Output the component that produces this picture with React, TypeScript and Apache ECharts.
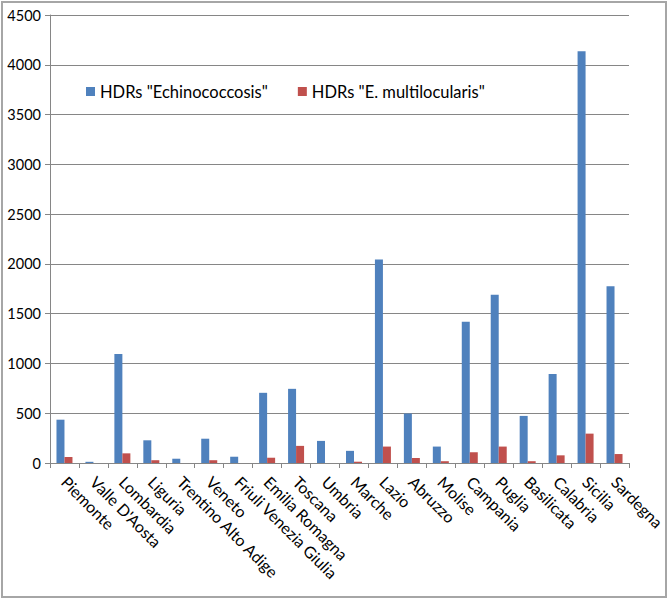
import React, { useEffect, useRef } from "react";
import * as echarts from "echarts";

const regions = [
  "Piemonte", "Valle D'Aosta", "Lombardia", "Liguria", "Trentino Alto Adige",
  "Veneto", "Friuli Venezia Giulia", "Emilia Romagna", "Toscana", "Umbria",
  "Marche", "Lazio", "Abruzzo", "Molise", "Campania", "Puglia", "Basilicata",
  "Calabria", "Sicilia", "Sardegna",
];
const echinococcosis = [
  435, 12, 1095, 228, 43, 244, 63, 705, 745, 222, 122, 2045, 497, 165, 1420,
  1690, 473, 895, 4135, 1775,
];
const multilocularis = [
  60, 0, 97, 28, 0, 28, 0, 53, 172, 0, 13, 165, 50, 18, 108, 165, 18, 77, 295, 90,
];
const seriesNames = ['HDRs "Echinococcosis"', 'HDRs "E. multilocularis"'];

const FONT = "Lato, 'Open Sans', sans-serif";

export default function App() {
  const ref = useRef<HTMLDivElement>(null);
  useEffect(() => {
    if (!ref.current) return;
    const chart = echarts.init(ref.current, null, { renderer: "svg" });
    chart.setOption({
      animation: false,
      backgroundColor: "#ffffff",
      textStyle: { fontFamily: FONT },
      graphic: [
        {
          type: "rect",
          shape: { x: 2, y: 2, width: 664, height: 595 },
          style: { fill: "none", stroke: "#a6a6a6", lineWidth: 2 },
          silent: true,
        },
      ],
      legend: {
        left: 81,
        top: 78,
        itemWidth: 9,
        itemHeight: 9,
        itemGap: 30,
        icon: "rect",
        textStyle: { fontSize: 16.5, color: "#000", fontFamily: FONT },
        data: seriesNames,
      },
      grid: { left: 50, right: 41, top: 15, bottom: 139, containLabel: false },
      xAxis: {
        type: "category",
        data: regions,
        axisLine: { lineStyle: { color: "#868686", width: 1 } },
        axisTick: { show: true, length: 5, lineStyle: { color: "#868686" } },
        axisLabel: {
          interval: 0,
          rotate: -45,
          fontSize: 16,
          color: "#000",
          fontFamily: FONT,
          margin: 16,
        },
      },
      yAxis: {
        type: "value",
        min: 0,
        max: 4500,
        interval: 500,
        axisLine: { show: true, lineStyle: { color: "#868686" } },
        axisTick: { show: true, length: 5, lineStyle: { color: "#868686" } },
        splitLine: { lineStyle: { color: "#868686", width: 1 } },
        axisLabel: {
          fontSize: 14.5,
          color: "#000",
          fontFamily: FONT,
          margin: 9,
          formatter: (v: number) => String(v),
        },
      },
      series: [
        {
          name: seriesNames[0],
          type: "bar",
          data: echinococcosis,
          barWidth: 8,
          barGap: "0%",
          itemStyle: { color: "#4F81BD" },
        },
        {
          name: seriesNames[1],
          type: "bar",
          data: multilocularis,
          barWidth: 8,
          itemStyle: { color: "#C0504D" },
        },
      ],
    });
    return () => chart.dispose();
  }, []);
  return (
    <div
      ref={ref}
      style={{ position: "absolute", left: 0, top: 0, width: 670, height: 602 }}
    />
  );
}
